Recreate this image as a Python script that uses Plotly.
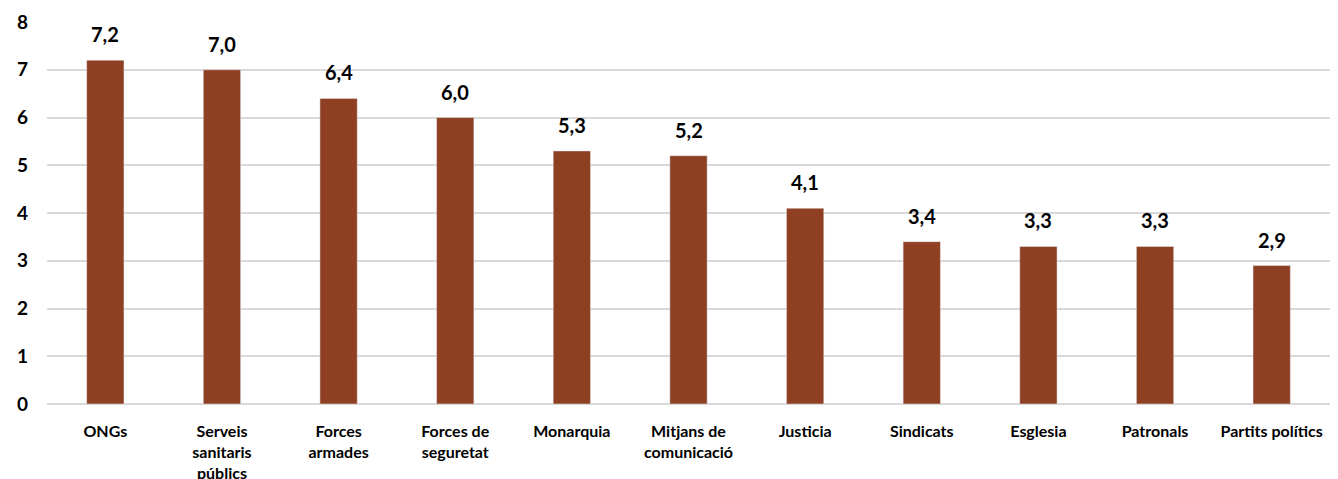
import plotly.graph_objects as go

# categories and scores
categories = ["ONGs", "Serveis<br>sanitaris<br>públics", "Forces<br>armades", "Forces de<br>seguretat",
              "Monarquia", "Mitjans de<br>comunicació", "Justicia", "Sindicats",
              "Esglesia", "Patronals", "Partits polítics"]
values = [7.2, 7.0, 6.4, 6.0, 5.3, 5.2, 4.1, 3.4, 3.3, 3.3, 2.9]
y_ticks = [0, 1, 2, 3, 4, 5, 6, 7, 8]

FONT = "Lato"
bar_color = "#8F3F22"

fig = go.Figure()
fig.add_trace(go.Bar(x=categories, y=values, marker_color=bar_color, width=0.32))

# value labels above bars, decimal comma
for c, v in zip(categories, values):
    fig.add_annotation(x=c, y=v, text=f"<b>{v:.1f}</b>".replace(".", ","), showarrow=False,
                       yanchor="bottom", yshift=12, font=dict(family=FONT, size=20, color="#000"))

fig.update_layout(
    width=1338, height=479,
    margin=dict(l=39, r=16, t=14, b=83),
    plot_bgcolor="white", paper_bgcolor="white",
    showlegend=False,
    font=dict(family=FONT, color="#000"),
)
fig.update_xaxes(tickfont=dict(family=FONT, size=16, color="#000", weight="bold"),
                 showline=False, ticks="", ticklabelstandoff=16, automargin=False)
fig.update_yaxes(range=[0, 8], tickvals=y_ticks, tickfont=dict(family=FONT, size=19, color="#000", weight="bold"),
                 showgrid=True, gridcolor="#D9D9D9", gridwidth=1.5,
                 zeroline=True, zerolinecolor="#D9D9D9", zerolinewidth=1.5,
                 ticklabelstandoff=18, automargin=False)

fig.write_html("out.html")
